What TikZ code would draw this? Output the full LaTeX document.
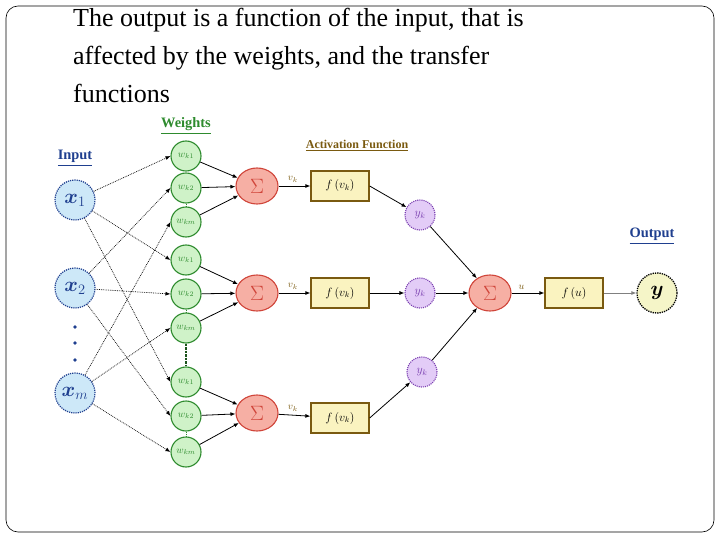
\documentclass[tikz,border=0pt]{standalone}
\usepackage{amsmath}
\usepackage{fontspec}
\setmainfont{Liberation Serif}
\usetikzlibrary{arrows.meta,shapes.geometric}
\definecolor{inb}{HTML}{CDE8F8}\definecolor{inl}{HTML}{1F3F8F}
\definecolor{wg}{HTML}{CFF2C8}\definecolor{wl}{HTML}{2E8B2E}
\definecolor{sr}{HTML}{F6AFA4}\definecolor{sl}{HTML}{D0453A}
\definecolor{fy}{HTML}{FAF3C0}\definecolor{fl}{HTML}{7A5A10}
\definecolor{yp}{HTML}{E3CCF7}\definecolor{yl}{HTML}{7A3FB0}
\definecolor{oy}{HTML}{F5F5C8}
\begin{document}
\begin{tikzpicture}[x=1pt,y=-1pt,
 inp/.style={circle,draw=inl,fill=inb,densely dotted,line width=1.2pt,minimum size=40pt,inner sep=0pt,font=\huge,text=inl},
 wt/.style={circle,draw=wl,fill=wg,line width=1.1pt,minimum size=30pt,inner sep=0pt,font=\normalsize,text=wl},
 sm/.style={ellipse,draw=sl,fill=sr,line width=1.1pt,minimum width=42pt,minimum height=36pt,inner sep=0pt,font=\huge,text=sl},
 fb/.style={draw=fl,fill=fy,line width=1.3pt,minimum width=58pt,minimum height=30pt,inner sep=0pt,font=\large},
 yk/.style={circle,draw=yl,fill=yp,densely dotted,line width=1.1pt,minimum size=30pt,inner sep=0pt,font=\large,text=yl},
 arr/.style={-{Latex[length=5pt,width=4pt]},line width=0.8pt},
 darr/.style={arr,densely dotted,line width=0.7pt},
 hd/.style={font=\bfseries\Large},
]
\useasboundingbox (0,0) rectangle (720,540);
\draw[rounded corners=12pt,line width=0.6pt] (6,6) rectangle (714,532);
\node[anchor=north west,align=left,font=\fontsize{26}{38}\selectfont,inner sep=0pt] (title) at (73,8) {The output is a function of the input, that is\\affected by the weights, and the transfer\\functions};
\node[hd,text=inl] (lin) at (75,158) {\underline{Input}};
\node[hd,text=wl] (lw) at (186,126) {\underline{Weights}};
\node[text=fl,font=\bfseries\large] (la) at (357,146) {\underline{Activation Function}};
\node[hd,text=inl] (lo) at (652,236) {\underline{Output}};
\node[inp] (x1) at (75,200) {$\boldsymbol{x}_1$};
\node[inp] (x2) at (75,288) {$\boldsymbol{x}_2$};
\node[inp] (xm) at (75,393) {$\boldsymbol{x}_m$};
\foreach \y in {327,343,360} \fill[inl] (75,\y) circle (1.8pt);
\foreach \g/\a/\b/\c/\s in {1/156/188/222/186,2/260/294/328/293,3/382/416/452/413}{
 \node[wt] (w\g1) at (186,\a) {$w_{k1}$};
 \node[wt] (w\g2) at (186,\b) {$w_{k2}$};
 \node[wt] (w\g3) at (186,\c) {$w_{km}$};
 \draw[densely dotted,wl,line width=1pt] (w\g2) -- (w\g3);
 \node[sm] (s\g) at (257,\s) {$\Sigma$};
 \draw[arr] (w\g1) -- (s\g); \draw[arr] (w\g2) -- (s\g); \draw[arr] (w\g3) -- (s\g);
}
\draw[densely dotted,wl!60!black,line width=2.5pt] (w23) -- (w31);
\foreach \g/\y in {1/186,2/293,3/418}{
 \node[fb] (f\g) at (340,\y) {$f\,(v_k)$};
 \draw[arr] (s\g) -- node[above,font=\normalsize,fl,pos=0.45]{$v_k$} (f\g);
}
\node[yk] (y1) at (420,215) {$y_k$};
\node[yk] (y2) at (420,293) {$y_k$};
\node[yk] (y3) at (422,372) {$y_k$};
\draw[arr] (f1.east) -- (y1); \draw[arr] (f2) -- (y2); \draw[arr] (f3.east) -- (y3);
\node[sm] (S) at (490,293) {$\Sigma$};
\draw[arr] (y1) -- (S); \draw[arr] (y2) -- (S); \draw[arr] (y3) -- (S);
\node[fb] (fu) at (574,293) {$f\,(u)$};
\draw[arr] (S) -- node[above,font=\normalsize,fl,pos=0.3]{$u$} (fu);
\node[circle,draw=black,fill=oy,densely dotted,line width=1.3pt,minimum size=40pt,inner sep=0pt,font=\huge] (yo) at (657,293) {$\boldsymbol{y}$};
\draw[arr,gray] (fu) -- (yo);
\foreach \x/\i in {x1/1,x2/2,xm/3}{
 \draw[darr] (\x) -- (w1\i.west);
 \draw[darr] (\x) -- (w2\i.west);
 \draw[darr] (\x) -- (w3\i.west);
}
\end{tikzpicture}
\end{document}
